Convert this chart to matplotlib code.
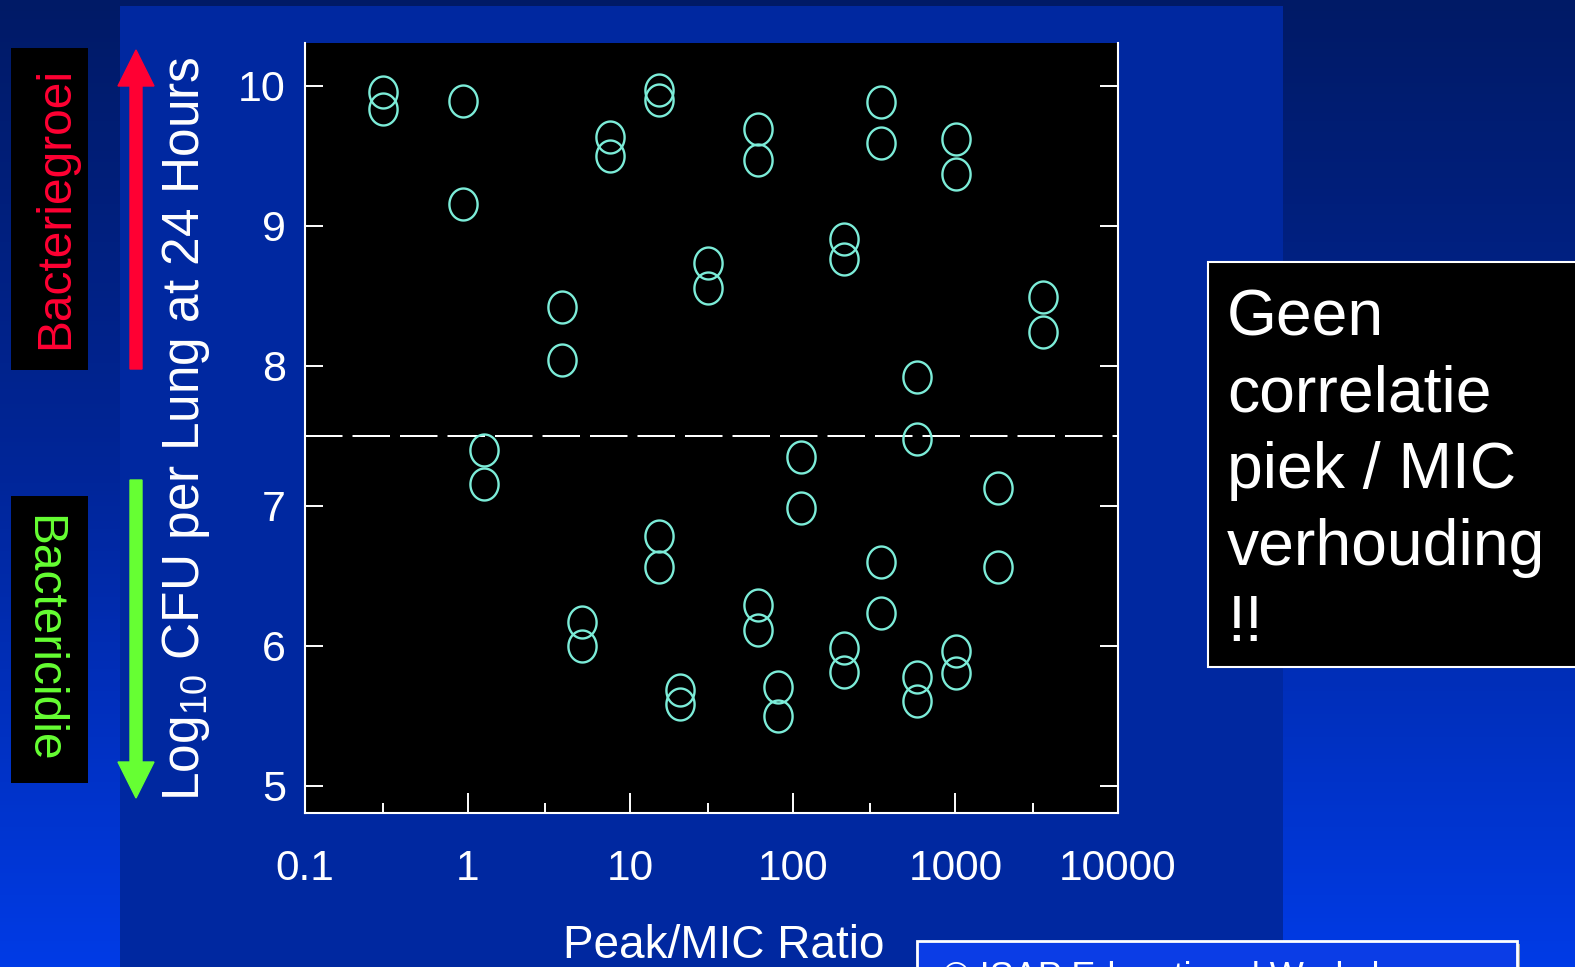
import numpy as np
import matplotlib
matplotlib.use("Agg")
import matplotlib.pyplot as plt
from matplotlib.patches import Rectangle, FancyArrow
from matplotlib.path import Path
from matplotlib.colors import LinearSegmentedColormap
from matplotlib.ticker import NullFormatter, NullLocator

plt.rcParams["font.family"] = ["Liberation Sans", "DejaVu Sans"]
plt.rcParams["mathtext.fontset"] = "custom"
plt.rcParams["mathtext.rm"] = "Liberation Sans"

# Peak/MIC ratio and log10 CFU per lung at 24 h
peak_mic = [0.30, 0.30, 0.94, 0.94, 1.27, 1.27, 3.8, 3.8, 5.05, 5.05,
            7.5, 7.5, 15.1, 15.1, 15.1, 15.1, 20.2, 20.2, 30, 30,
            60.8, 60.8, 60.8, 60.8, 81, 81, 112.7, 112.7,
            207, 207, 207, 207, 348, 348, 348, 348,
            581, 581, 581, 581, 1009, 1009, 1009, 1009,
            1820, 1820, 3443, 3443]
log_cfu = [9.955, 9.836, 9.895, 9.157, 7.40, 7.155, 8.424, 8.043, 6.167, 5.995,
           9.634, 9.502, 9.971, 9.90, 6.786, 6.566, 5.681, 5.583, 8.733, 8.555,
           9.693, 9.471, 6.293, 6.114, 5.705, 5.495, 7.352, 6.983,
           8.905, 8.762, 5.983, 5.816, 9.883, 9.595, 6.595, 6.234,
           7.924, 7.476, 5.776, 5.602, 9.624, 9.371, 5.964, 5.805,
           7.124, 6.566, 8.495, 8.245]
threshold = 7.5

x_ticks = [0.1, 1, 10, 100, 1000, 10000]
x_tick_labels = ["0.1", "1", "10", "100", "1000", "10000"]
x_minor = [0.3, 3, 30, 300, 3000]
y_ticks = [5, 6, 7, 8, 9, 10]

W, H = 1575, 967
fig = plt.figure(figsize=(W / 100, H / 100), dpi=100)

# Slide background drawn in pixel units
bg = fig.add_axes([0, 0, 1, 1], zorder=0)
bg.set_xlim(0, W)
bg.set_ylim(H, 0)
bg.axis("off")
grad = LinearSegmentedColormap.from_list("slide", ["#001a66", "#00269a", "#003be6"])
bg.imshow(np.linspace(0, 1, 256).reshape(-1, 1), cmap=grad, aspect="auto",
          extent=(0, W, H, 0), zorder=0)
bg.add_patch(Rectangle((120, 6), 1163, H, facecolor="#0028a0", edgecolor="none", zorder=1))

# Side labels with arrows
bg.add_patch(Rectangle((11, 48), 77, 322, facecolor="black", edgecolor="none", zorder=2))
bg.text(68, 208, "Bacteriegroei", rotation=90, rotation_mode="anchor",
        ha="center", va="baseline", fontsize=34.5, color="#ff0033", zorder=3)
bg.add_patch(Rectangle((11, 496), 77, 287, facecolor="black", edgecolor="none", zorder=2))
bg.text(30, 639, "Bactericidie", rotation=-90, rotation_mode="anchor",
        ha="center", va="baseline", fontsize=34.5, color="#66ff33", zorder=3)
bg.add_patch(FancyArrow(136, 369, 0, -319, width=12, head_width=36, head_length=36,
                        length_includes_head=True, color="#ff0033", zorder=3))
bg.add_patch(FancyArrow(136, 480, 0, 318, width=12, head_width=36, head_length=36,
                        length_includes_head=True, color="#66ff33", zorder=3))

# Axis labels
bg.text(199, 429, r"Log$_\mathrm{10}$ CFU per Lung at 24 Hours", rotation=90,
        rotation_mode="anchor", ha="center", va="baseline", fontsize=37,
        color="white", zorder=3)
bg.text(724, 958, "Peak/MIC Ratio", ha="center", va="baseline", fontsize=33,
        color="white", zorder=3)

# Conclusion box
bg.add_patch(Rectangle((1208, 262), 420, 405, facecolor="black", edgecolor="white",
                       linewidth=1.5, zorder=2))
for i, line in enumerate(["Geen", "correlatie", "piek / MIC", "verhouding", "!!"]):
    bg.text(1227, 335 + 76.6 * i, line, ha="left", va="baseline", fontsize=46.3,
            color="white", zorder=3)

# Footer box
bg.add_patch(Rectangle((920, 944), 600, 60, facecolor="#9a9a9a", edgecolor="none", zorder=2))
bg.add_patch(Rectangle((917, 941), 600, 60, facecolor="#0b3de6", edgecolor="white",
                       linewidth=2, zorder=3))
bg.text(943, 988, "\u00a9 ISAP Educational Workshop", ha="left", va="baseline",
        fontsize=26, color="white", zorder=4)

# Scatter chart
ax = fig.add_axes([305 / W, 1 - 813 / H, (1118 - 305) / W, (813 - 43.3) / H], zorder=1)
ax.set_facecolor("black")
ax.set_xscale("log")
ax.set_xlim(0.1, 10000)
ax.set_ylim(4.805, 10.305)
for side in ["left", "right", "bottom"]:
    ax.spines[side].set_color("white")
    ax.spines[side].set_linewidth(1.5)
ax.spines["top"].set_visible(False)

ax.set_xticks(x_ticks)
ax.set_xticklabels(x_tick_labels)
ax.set_xticks(x_minor, minor=True)
ax.xaxis.set_minor_formatter(NullFormatter())
ax.set_yticks(y_ticks)
ax.yaxis.set_minor_locator(NullLocator())
ax.tick_params(axis="x", which="major", direction="in", length=14.4, width=1.4,
               color="white", labelcolor="white", labelsize=30.5, pad=26, top=False)
ax.tick_params(axis="x", which="minor", direction="in", length=7.2, width=1.4,
               color="white", top=False)
ax.tick_params(axis="y", direction="in", length=13, width=1.4, color="white",
               labelcolor="white", labelsize=31, pad=13.7, left=True, right=True)

ax.axhline(threshold, color="white", linewidth=1.44, dashes=(18.75, 5), zorder=2)

t = np.linspace(0, 2 * np.pi, 121)
oval = Path(np.column_stack([0.882 * np.cos(t), np.sin(t)]), closed=True)
ax.plot(peak_mic, log_cfu, linestyle="none", marker=oval, markersize=23,
        markerfacecolor="none", markeredgecolor="#7cecd8", markeredgewidth=1.7,
        zorder=3)

fig.savefig("out.png", dpi=100)
